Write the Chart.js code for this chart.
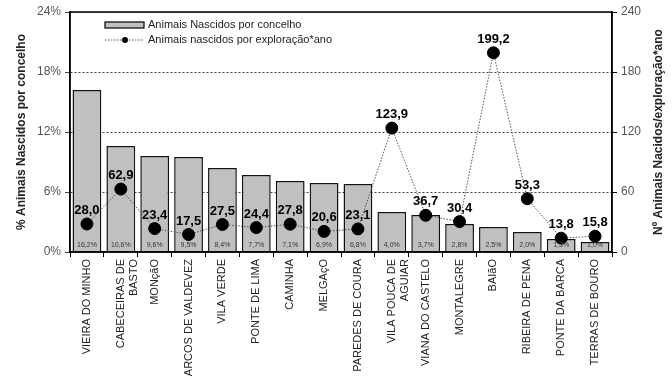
<!DOCTYPE html>
<html>
<head>
<meta charset="utf-8">
<script src="https://cdn.jsdelivr.net/npm/chart.js@4"></script>
<style>
  body { margin: 0; background: #fff; }
  #wrap { width: 672px; height: 380px; }
</style>
</head>
<body>
<div id="wrap"><canvas id="grafico"></canvas></div>
<script>
const concelhos = [
  'VIEIRA DO MINHO', ['CABECEIRAS DE', 'BASTO'], 'MONçãO', 'ARCOS DE VALDEVEZ',
  'VILA VERDE', 'PONTE DE LIMA', 'CAMINHA', 'MELGAçO', 'PAREDES DE COURA',
  ['VILA POUCA DE', 'AGUIAR'], 'VIANA DO CASTELO', 'MONTALEGRE', 'BAIãO',
  'RIBEIRA DE PENA', 'PONTE DA BARCA', 'TERRAS DE BOURO'
];
const pctNascidos = [16.2, 10.6, 9.6, 9.5, 8.4, 7.7, 7.1, 6.9, 6.8, 4.0, 3.7, 2.8, 2.5, 2.0, 1.3, 1.0];
const nascidosExploracao = [28.0, 62.9, 23.4, 17.5, 27.5, 24.4, 27.8, 20.6, 23.1, 123.9, 36.7, 30.4, 199.2, 53.3, 13.8, 15.8];
const ticksPct = [0, 6, 12, 18, 24];
const ticksN = [0, 60, 120, 180, 240];

const FONTE = 'Arial, "Liberation Sans", sans-serif';
const virgula = (v, d) => v.toFixed(d).replace('.', ',');

// moldura, rótulos, título da direita e legenda desenhados à mão
const extras = {
  id: 'extras',
  afterDatasetsDraw(chart) {
    const ctx = chart.ctx;
    const a = chart.chartArea;
    ctx.save();
    // valores das barras
    const barras = chart.getDatasetMeta(1).data;
    ctx.font = '7px ' + FONTE;
    ctx.fillStyle = '#333';
    ctx.textAlign = 'center';
    ctx.textBaseline = 'middle';
    barras.forEach((b, i) => ctx.fillText(virgula(pctNascidos[i], 1) + '%', b.x, a.bottom - 7));
    // valores da linha
    const pontos = chart.getDatasetMeta(0).data;
    ctx.font = 'bold 13px ' + FONTE;
    ctx.fillStyle = '#000';
    ctx.textBaseline = 'alphabetic';
    pontos.forEach((p, i) => ctx.fillText(virgula(nascidosExploracao[i], 1), p.x, p.y - 10));
    // moldura
    ctx.strokeStyle = '#000';
    ctx.lineWidth = 1.5;
    ctx.strokeRect(a.left, a.top, a.right - a.left, a.bottom - a.top);
    // título do eixo da direita, lido de baixo para cima
    ctx.save();
    ctx.translate(659, (a.top + a.bottom) / 2);
    ctx.rotate(-Math.PI / 2);
    ctx.font = 'bold 12px ' + FONTE;
    ctx.fillStyle = '#222';
    ctx.textBaseline = 'middle';
    ctx.fillText('Nº Animais Nacidos/exploração*ano', 0, 0);
    ctx.restore();
    // legenda
    const lx = a.left + 35, ly = a.top + 13;
    ctx.fillStyle = '#c0c0c0';
    ctx.fillRect(lx, ly - 3, 39, 6);
    ctx.lineWidth = 1.2;
    ctx.strokeRect(lx, ly - 3, 39, 6);
    ctx.beginPath();
    ctx.setLineDash([1.5, 1.5]);
    ctx.lineWidth = 1;
    ctx.strokeStyle = '#555';
    ctx.moveTo(lx, ly + 15);
    ctx.lineTo(lx + 39, ly + 15);
    ctx.stroke();
    ctx.setLineDash([]);
    ctx.beginPath();
    ctx.fillStyle = '#000';
    ctx.arc(lx + 20, ly + 15, 3, 0, Math.PI * 2);
    ctx.fill();
    ctx.font = '11px ' + FONTE;
    ctx.fillStyle = '#222';
    ctx.textAlign = 'left';
    ctx.textBaseline = 'middle';
    ctx.fillText('Animais Nascidos por concelho', lx + 43, ly);
    ctx.fillText('Animais nascidos por exploração*ano', lx + 43, ly + 15);
    ctx.restore();
  }
};

new Chart(document.getElementById('grafico'), {
  data: {
    labels: concelhos,
    datasets: [{
      type: 'line',
      label: 'Animais nascidos por exploração*ano',
      data: nascidosExploracao,
      yAxisID: 'yN',
      order: 0,
      borderColor: '#555',
      borderWidth: 1,
      borderDash: [1.5, 1.5],
      pointRadius: 6,
      pointBackgroundColor: '#000',
      pointBorderColor: '#000',
      tension: 0
    }, {
      type: 'bar',
      label: 'Animais Nascidos por concelho',
      data: pctNascidos,
      yAxisID: 'yPct',
      order: 1,
      backgroundColor: '#c0c0c0',
      borderColor: '#111',
      borderWidth: 1.5,
      categoryPercentage: 1,
      barPercentage: 0.85
    }]
  },
  options: {
    responsive: true,
    maintainAspectRatio: false,
    animation: false,
    layout: { padding: { top: 12, left: 12, right: 2 } },
    plugins: { legend: { display: false }, tooltip: { enabled: false } },
    scales: {
      x: {
        offset: true,
        grid: { drawOnChartArea: false, offset: true, tickLength: 5, color: '#000' },
        border: { color: '#000', width: 1.5 },
        ticks: {
          minRotation: 90, maxRotation: 90, autoSkip: false, padding: 2,
          color: '#222', font: { family: FONTE, size: 11 }
        },
        afterFit(s) { s.height = 128; }
      },
      yPct: {
        position: 'left',
        min: 0, max: 24,
        afterBuildTicks(s) { s.ticks = ticksPct.map(v => ({ value: v })); },
        ticks: {
          callback: v => v + '%', color: '#555', padding: 4,
          font: { family: FONTE, size: 12 }
        },
        grid: { color: '#444', tickLength: 5, lineWidth: 1 },
        border: { color: '#000', width: 1.5, dash: [2, 2] },
        title: {
          display: true, text: '% Animais Nascidos por concelho', color: '#222',
          font: { family: FONTE, size: 12, weight: 'bold' }, padding: 2
        },
        afterFit(s) { s.width = 58; }
      },
      yN: {
        position: 'right',
        min: 0, max: 240,
        afterBuildTicks(s) { s.ticks = ticksN.map(v => ({ value: v })); },
        ticks: { color: '#555', padding: 4, font: { family: FONTE, size: 12 } },
        grid: { drawOnChartArea: false, tickLength: 5, color: '#000' },
        border: { color: '#000', width: 1.5 },
        afterFit(s) { s.width = 58; }
      }
    }
  },
  plugins: [extras]
});
</script>
</body>
</html>
